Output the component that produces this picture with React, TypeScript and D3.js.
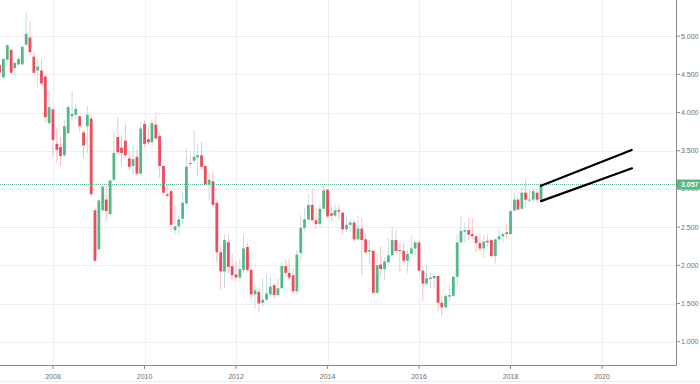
import React from "react";
import * as d3 from "d3";

// US 10Y yield, monthly candles Nov 2006 – Sep 2018
const firstMonth = "2006-11-01";
const lastMonth = "2018-09-01";

const opens = [
  4.62, 4.46,
  4.69, 4.82, 4.58, 4.63, 4.63, 4.89, 4.98, 4.73, 4.55, 4.55, 4.47, 3.86,
  4.04, 3.59, 3.55, 3.44, 3.73, 3.95, 3.97, 3.95, 3.74, 3.82, 3.92, 2.72,
  2.21, 2.72, 2.86, 2.67, 3.12, 3.68, 3.54, 3.63, 3.40, 3.30, 3.42, 3.20,
  3.85, 3.65, 3.61, 3.84, 3.69, 3.30, 2.93, 2.97, 2.46, 2.51, 2.61, 2.81,
  3.34, 3.37, 3.41, 3.44, 3.30, 3.06, 3.10, 2.82, 2.17, 1.92, 2.30, 1.99,
  1.88, 1.84, 1.94, 2.24, 1.94, 1.62, 1.65, 1.51, 1.55, 1.62, 1.74, 1.61,
  1.70, 1.99, 1.90, 1.87, 1.66, 2.16, 2.49, 2.60, 2.79, 2.59, 2.54, 2.74,
  2.99, 2.68, 2.65, 2.72, 2.69, 2.47, 2.53, 2.56, 2.34, 2.48, 2.34, 2.18,
  2.19, 1.64, 2.01, 1.95, 2.04, 2.13, 2.33, 2.20, 2.19, 2.06, 2.15, 2.22,
  2.30, 1.93, 1.76, 1.82, 1.83, 1.86, 1.51, 1.45, 1.59, 1.60, 1.85, 2.30,
  2.44, 2.46, 2.41, 2.38, 2.29, 2.22, 2.32, 2.33, 2.12, 2.34, 2.38, 2.43,
  2.41, 2.72, 2.86, 2.74, 2.95, 2.85, 2.86, 2.95, 2.86,
];
const highs = [
  4.65, 4.71,
  4.90, 4.84, 4.66, 4.73, 4.88, 5.30, 5.19, 4.80, 4.69, 4.69, 4.49, 4.28,
  4.06, 3.79, 3.68, 3.90, 4.10, 4.28, 4.12, 3.97, 3.77, 4.09, 3.97, 2.75,
  2.87, 3.05, 3.04, 3.12, 3.75, 3.95, 3.70, 3.86, 3.49, 3.57, 3.52, 3.86,
  3.90, 3.80, 3.90, 4.00, 3.74, 3.33, 3.06, 3.00, 2.79, 2.65, 2.96, 3.54,
  3.45, 3.77, 3.60, 3.62, 3.32, 3.21, 3.23, 2.84, 2.25, 2.40, 2.40, 2.15,
  2.05, 2.08, 2.40, 2.30, 1.98, 1.75, 1.68, 1.83, 1.89, 1.85, 1.77, 1.83,
  2.05, 2.08, 2.08, 1.96, 2.20, 2.66, 2.75, 2.93, 3.00, 2.75, 2.80, 3.03,
  3.00, 2.78, 2.80, 2.80, 2.69, 2.66, 2.60, 2.60, 2.65, 2.62, 2.42, 2.33,
  2.20, 2.16, 2.25, 2.10, 2.36, 2.50, 2.47, 2.30, 2.30, 2.20, 2.38, 2.32,
  2.30, 1.99, 2.00, 1.90, 1.90, 1.86, 1.60, 1.62, 1.74, 1.86, 2.40, 2.64,
  2.56, 2.63, 2.62, 2.42, 2.42, 2.40, 2.40, 2.35, 2.36, 2.48, 2.44, 2.54,
  2.73, 2.95, 2.91, 3.03, 3.13, 2.99, 3.01, 3.00, 3.10,
];
const lows = [
  4.43, 4.44,
  4.66, 4.49, 4.49, 4.61, 4.61, 4.87, 4.76, 4.50, 4.33, 4.35, 3.86, 3.84,
  3.42, 3.33, 3.30, 3.42, 3.72, 3.90, 3.90, 3.75, 3.40, 3.47, 2.90, 2.04,
  2.18, 2.70, 2.57, 2.65, 3.10, 3.45, 3.29, 3.40, 3.25, 3.18, 3.16, 3.17,
  3.55, 3.57, 3.57, 3.64, 3.15, 2.93, 2.87, 2.44, 2.40, 2.39, 2.55, 2.79,
  3.28, 3.33, 3.16, 3.26, 3.05, 2.85, 2.78, 2.03, 1.68, 1.70, 1.89, 1.80,
  1.80, 1.79, 1.90, 1.91, 1.54, 1.44, 1.39, 1.46, 1.53, 1.58, 1.57, 1.59,
  1.69, 1.85, 1.82, 1.62, 1.62, 2.08, 2.45, 2.57, 2.57, 2.47, 2.50, 2.74,
  2.62, 2.58, 2.63, 2.60, 2.40, 2.43, 2.45, 2.30, 2.33, 1.87, 2.15, 2.02,
  1.62, 1.62, 1.86, 1.81, 2.03, 2.10, 2.16, 1.92, 2.03, 1.90, 2.14, 2.12,
  1.92, 1.53, 1.73, 1.70, 1.70, 1.40, 1.33, 1.44, 1.53, 1.59, 1.72, 2.28,
  2.30, 2.32, 2.35, 2.17, 2.19, 2.10, 2.24, 2.10, 2.02, 2.30, 2.30, 2.34,
  2.40, 2.70, 2.72, 2.73, 2.76, 2.82, 2.82, 2.82, 2.83,
];
const closes = [
  4.52, 4.70,
  4.88, 4.52, 4.65, 4.70, 4.86, 5.03, 4.79, 4.52, 4.60, 4.38, 3.94, 4.07,
  3.64, 3.51, 3.43, 3.82, 4.07, 3.98, 4.05, 3.82, 3.57, 3.97, 2.93, 2.06,
  2.85, 3.03, 2.71, 3.11, 3.47, 3.48, 3.47, 3.44, 3.29, 3.39, 3.20, 3.79,
  3.59, 3.61, 3.86, 3.66, 3.30, 2.95, 2.91, 2.53, 2.51, 2.60, 2.82, 3.29,
  3.33, 3.42, 3.44, 3.29, 3.06, 3.12, 2.79, 2.17, 1.92, 2.33, 1.98, 1.87,
  1.84, 1.95, 2.22, 1.94, 1.62, 1.67, 1.50, 1.55, 1.63, 1.72, 1.61, 1.70,
  1.99, 1.90, 1.84, 1.66, 2.14, 2.49, 2.60, 2.79, 2.59, 2.54, 2.74, 2.98,
  2.64, 2.65, 2.72, 2.70, 2.47, 2.53, 2.56, 2.34, 2.48, 2.33, 2.17, 2.20,
  1.64, 2.00, 1.95, 2.05, 2.13, 2.33, 2.19, 2.19, 2.06, 2.15, 2.22, 2.30,
  1.93, 1.76, 1.83, 1.84, 1.86, 1.51, 1.45, 1.60, 1.61, 1.85, 2.30, 2.45,
  2.46, 2.40, 2.38, 2.29, 2.22, 2.31, 2.30, 2.12, 2.34, 2.38, 2.41, 2.41,
  2.71, 2.86, 2.73, 2.95, 2.86, 2.86, 2.97, 2.86, 3.057,
];

const lastPrice = 3.057;
const priceTicks = [1.0, 1.5, 2.0, 2.5, 3.0, 3.5, 4.0, 4.5, 5.0, 5.5];
const yearTicks = [2008, 2010, 2012, 2014, 2016, 2018, 2020];

// hand-drawn trend lines: [date, value] pairs
const trendUpper = [["2018-09-01", 3.04], ["2020-08-25", 3.51]];
const trendLower = [["2018-09-01", 2.84], ["2020-08-28", 3.27]];

const W = 700;
const H = 384;
const AXIS_X = 676;
const AXIS_Y = 365;

const UP = "#53b987";
const DOWN = "#eb4d5c";
const UP_WICK = "#c3dcdf";
const DOWN_WICK = "#f7c0c6";
const FONT = "'Liberation Sans', Arial, sans-serif";

export default function App() {
  const months = d3.utcMonth.range(new Date(firstMonth), d3.utcMonth.offset(new Date(lastMonth), 1));
  const x = d3
    .scaleUtc()
    .domain([new Date(Date.UTC(2008, 0, 1)), new Date(Date.UTC(2020, 0, 1))])
    .range([53, 602]);
  const y = d3.scaleLinear().domain([1, 5]).range([341.7, 36.1]);

  const candles = months.map((m, i) => ({
    date: m,
    o: opens[i],
    h: highs[i],
    l: lows[i],
    c: closes[i],
  }));

  const bodyW = 2.8;
  const line = d3
    .line<any>()
    .x((d) => x(new Date(d[0])))
    .y((d) => y(d[1]));

  const py = y(lastPrice);

  return (
    <>
      <style>{`body{margin:0}`}</style>
      <svg width={W} height={H} style={{ display: "block", background: "#fff" }}>
        {/* grid */}
        <g stroke="#efefef" strokeWidth={1}>
          {priceTicks.map((t) => (
            <line key={"h" + t} x1={0} x2={AXIS_X} y1={Math.round(y(t)) + 0.5} y2={Math.round(y(t)) + 0.5} />
          ))}
          {yearTicks.map((t) => {
            const xx = Math.round(x(new Date(Date.UTC(t, 0, 1)))) + 0.5;
            return <line key={"v" + t} x1={xx} x2={xx} y1={0} y2={AXIS_Y} />;
          })}
        </g>

        {/* candles */}
        <g>
          {candles.map((d, i) => {
            const cx = x(d.date);
            const up = d.c >= d.o;
            const top = y(Math.max(d.o, d.c));
            const bot = y(Math.min(d.o, d.c));
            return (
              <g key={i}>
                <line
                  x1={cx}
                  x2={cx}
                  y1={y(d.h)}
                  y2={y(d.l)}
                  stroke={up ? UP_WICK : DOWN_WICK}
                  strokeWidth={1}
                />
                <rect
                  x={cx - bodyW / 2}
                  y={top}
                  width={bodyW}
                  height={Math.max(1, bot - top)}
                  fill={up ? UP : DOWN}
                />
              </g>
            );
          })}
        </g>

        {/* last price dotted line */}
        <line x1={0} x2={AXIS_X} y1={py} y2={py} stroke={UP} strokeWidth={1} strokeDasharray="1 1" />

        {/* trend lines */}
        <path d={line(trendUpper as any) || ""} stroke="#000" strokeWidth={2.2} fill="none" strokeLinecap="round" />
        <path d={line(trendLower as any) || ""} stroke="#000" strokeWidth={2.2} fill="none" strokeLinecap="round" />

        {/* axes */}
        <line x1={AXIS_X + 0.5} x2={AXIS_X + 0.5} y1={0} y2={AXIS_Y + 0.5} stroke="#8a8a8a" strokeWidth={1} />
        <line x1={0} x2={AXIS_X + 0.5} y1={AXIS_Y + 0.5} y2={AXIS_Y + 0.5} stroke="#8a8a8a" strokeWidth={1} />
        <line x1={0} x2={W} y1={381.5} y2={381.5} stroke="#ececec" strokeWidth={1} />

        {/* right axis labels */}
        <g fontFamily={FONT} fontSize={7} fill="#6e6e6e">
          {priceTicks.map((t) => (
            <g key={"pl" + t}>
              <line x1={AXIS_X + 1} x2={AXIS_X + 4} y1={y(t)} y2={y(t)} stroke="#8a8a8a" strokeWidth={1} />
              <text x={AXIS_X + 5} y={y(t)} dy="0.35em">
                {t.toFixed(3)}
              </text>
            </g>
          ))}
        </g>

        {/* bottom axis labels */}
        <g fontFamily={FONT} fontSize={7} fill="#6e6e6e" textAnchor="middle">
          {yearTicks.map((t) => {
            const xx = x(new Date(Date.UTC(t, 0, 1)));
            return (
              <g key={"yl" + t}>
                <line x1={xx} x2={xx} y1={AXIS_Y + 1} y2={AXIS_Y + 4} stroke="#8a8a8a" strokeWidth={1} />
                <text x={xx} y={378.5}>
                  {t}
                </text>
              </g>
            );
          })}
        </g>

        {/* last price label */}
        <rect x={AXIS_X + 1} y={py - 5} width={W - AXIS_X - 1} height={10} fill={UP} />
        <text
          x={AXIS_X + 5}
          y={py}
          dy="0.35em"
          fontFamily={FONT}
          fontSize={7}
          fontWeight="bold"
          fill="#fff"
        >
          {lastPrice.toFixed(3)}
        </text>
      </svg>
    </>
  );
}
